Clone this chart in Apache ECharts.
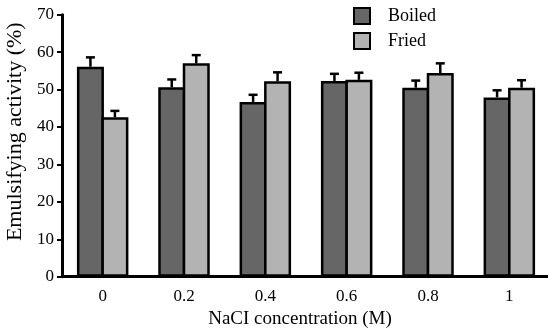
<!DOCTYPE html>
<html><head><meta charset="utf-8">
<script src="https://cdn.jsdelivr.net/npm/echarts@6/dist/echarts.min.js"></script>
<style>html,body{margin:0;padding:0;background:#fff}#c{width:548px;height:329px}</style>
</head><body><div id="c"></div>
<script>
var categories = ['0', '0.2', '0.4', '0.6', '0.8', '1'];
var boiled = [56.1, 50.6, 46.7, 52.3, 50.5, 47.9];
var fried = [42.6, 57.0, 52.2, 52.6, 54.4, 50.5];
var boiledErr = [2.5, 2.1, 1.9, 1.9, 1.9, 1.9];
var friedErr = [1.7, 2.2, 2.4, 1.9, 2.6, 2.0];

var FONT = 'Liberation Serif';
var BW = 27;
var GAP = -0.093;
var HALF = BW * (1 + GAP) / 2;

function errSeries(vals, errs, offset) {
  return {
    type: 'custom',
    z: 5,
    silent: true,
    data: vals.map(function (v, i) { return [i, v, v + errs[i]]; }),
    renderItem: function (params, api) {
      var base = api.coord([api.value(0), api.value(1)]);
      var top = api.coord([api.value(0), api.value(2)]);
      var x = base[0] + offset;
      var style = { stroke: '#000', lineWidth: 2.5 };
      return {
        type: 'group',
        children: [
          { type: 'line', shape: { x1: x, y1: base[1], x2: x, y2: top[1] }, style: style },
          { type: 'line', shape: { x1: x - 4.5, y1: top[1], x2: x + 4.5, y2: top[1] }, style: style }
        ]
      };
    }
  };
}

var chart = echarts.init(document.getElementById('c'));
chart.setOption({
  animation: false,
  grid: { left: 62, right: -2, top: 14.7, bottom: 52.3, containLabel: false, outerBoundsMode: 'none' },
  legend: {
    left: 348, top: 2, orient: 'vertical', itemGap: 7,
    itemWidth: 16, itemHeight: 16, icon: 'rect',
    data: ['Boiled', 'Fried'],
    textStyle: { fontFamily: FONT, fontSize: 18, color: '#000', padding: [0, 0, 0, 13] }
  },
  xAxis: {
    type: 'category', data: categories,
    name: 'NaCI concentration (M)', nameLocation: 'middle', nameGap: 32,
    nameTextStyle: { fontFamily: FONT, fontSize: 19, color: '#000', padding: [0, 12, 0, 0] },
    axisLine: { lineStyle: { color: '#000', width: 3 } },
    axisTick: { lineStyle: { color: '#000', width: 2 }, length: 6 },
    axisLabel: { fontFamily: FONT, fontSize: 17, color: '#000', margin: 11 }
  },
  yAxis: {
    type: 'value', min: 0, max: 70, interval: 10,
    name: 'Emulsifying activity (%)', nameLocation: 'middle', nameGap: 31,
    nameTextStyle: { fontFamily: FONT, fontSize: 22, color: '#000', padding: [0, 0, 0, 28] },
    splitLine: { show: false },
    axisLine: { show: true, lineStyle: { color: '#000', width: 3 } },
    axisTick: { show: true, lineStyle: { color: '#000', width: 2 }, length: 5 },
    axisLabel: { fontFamily: FONT, fontSize: 17, color: '#000', margin: 8 }
  },
  series: [
    { name: 'Boiled', type: 'bar', data: boiled, barWidth: BW, barGap: (GAP * 100) + '%',
      itemStyle: { color: '#666666', borderColor: '#000', borderWidth: 2.5 } },
    { name: 'Fried', type: 'bar', data: fried, barWidth: BW, barGap: (GAP * 100) + '%',
      itemStyle: { color: '#b3b3b3', borderColor: '#000', borderWidth: 2.5 } },
    errSeries(boiled, boiledErr, -HALF),
    errSeries(fried, friedErr, HALF)
  ]
});
</script></body></html>
